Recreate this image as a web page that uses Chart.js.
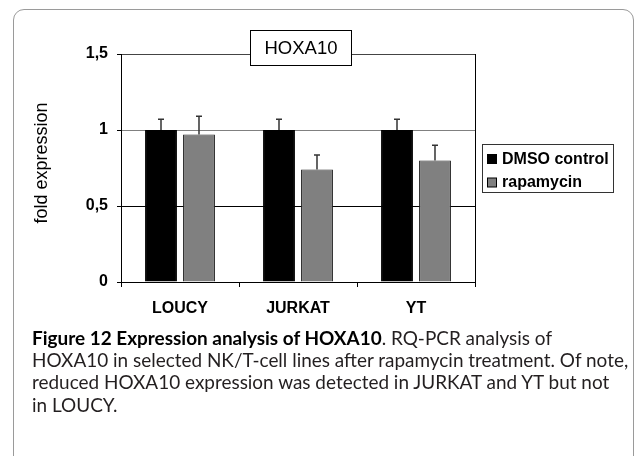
<!DOCTYPE html>
<html>
<head>
<meta charset="utf-8">
<script src="https://cdn.jsdelivr.net/npm/chart.js@4/dist/chart.umd.min.js"></script>
<style>
  body { margin:0; background:#fff; width:636px; height:456px; overflow:hidden; position:relative; }
  #marco { position:absolute; left:13px; top:9px; width:619px; height:600px; border:1px solid #9a9a9a; border-radius:11px; }
  #grafico { position:absolute; left:0; top:0; }
  #pie { position:absolute; left:32px; top:327px; font-family:"Lato","Noto Sans",sans-serif; font-size:19px; line-height:22.2px; color:#231f20; white-space:nowrap; transform-origin:0 0; }
  #pie b { color:#000; }
</style>
</head>
<body>
<div id="marco"></div>
<canvas id="grafico" width="636" height="330"></canvas>
<div id="pie">
  <div><b>Figure 12 Expression analysis of HOXA10</b>. RQ-PCR analysis of</div>
  <div id="linea2">HOXA10 in selected NK/T-cell lines after rapamycin treatment. Of note,</div>
  <div>reduced HOXA10 expression was detected in JURKAT and YT but not</div>
  <div>in LOUCY.</div>
</div>
<script>
// datos
var lineas = ["LOUCY", "JURKAT", "YT"];
var dmso = [1, 1, 1];
var dmsoErr = [0.07, 0.07, 0.07];
var rapa = [0.97, 0.74, 0.80];
var rapaErr = [0.12, 0.095, 0.10];
var yTicks = [0, 0.5, 1, 1.5];

var fuente = '"Liberation Sans", Arial, sans-serif';
var errores = [dmsoErr, rapaErr];

// barras de error (solo hacia arriba)
var pluginError = {
    id: "errores",
    afterDatasetsDraw(chart) {
        const ctx = chart.ctx;
        const y = chart.scales.y;
        chart.data.datasets.forEach((ds, i) => {
            const meta = chart.getDatasetMeta(i);
            meta.data.forEach((bar, j) => {
                const top = y.getPixelForValue(ds.data[j] + errores[i][j]);
                ctx.save();
                ctx.strokeStyle = "#333";
                ctx.lineWidth = 1.5;
                ctx.beginPath();
                ctx.moveTo(bar.x, bar.y);
                ctx.lineTo(bar.x, top);
                ctx.moveTo(bar.x - 3, top);
                ctx.lineTo(bar.x + 3, top);
                ctx.stroke();
                ctx.restore();
            });
        });
    }
};

// marco derecho, titulo, leyenda y titulo del eje
var pluginExtras = {
    id: "extras",
    afterDraw(chart) {
        const ctx = chart.ctx;
        const a = chart.chartArea;
        ctx.save();
        ctx.strokeStyle = "#000";
        ctx.lineWidth = 1;
        ctx.beginPath();
        ctx.moveTo(Math.round(a.right) + 0.5, a.top);
        ctx.lineTo(Math.round(a.right) + 0.5, a.bottom);
        ctx.stroke();

        // caja del titulo
        ctx.fillStyle = "#fff";
        ctx.fillRect(250.5, 30.5, 101, 35);
        ctx.strokeRect(250.5, 30.5, 101, 35);
        ctx.fillStyle = "#000";
        ctx.font = "18.5px " + fuente;
        ctx.textAlign = "center";
        ctx.textBaseline = "middle";
        ctx.fillText("HOXA10", 301, 48.5);

        // leyenda
        ctx.fillStyle = "#fff";
        ctx.strokeStyle = "#333";
        ctx.fillRect(482.5, 144.5, 131, 48);
        ctx.strokeRect(482.5, 144.5, 131, 48);
        ctx.font = "bold 16px " + fuente;
        ctx.textAlign = "left";
        chart.data.datasets.forEach((ds, i) => {
            const cy = 159 + i * 23.5;
            ctx.fillStyle = ds.backgroundColor;
            ctx.fillRect(487.5, cy - 4.5, 9, 9);
            ctx.strokeStyle = "#000";
            ctx.strokeRect(487.5, cy - 4.5, 9, 9);
            ctx.fillStyle = "#000";
            ctx.fillText(ds.label, 502, cy + 0.5);
        });

        // titulo eje y
        ctx.translate(42, 163);
        ctx.rotate(-Math.PI / 2);
        ctx.font = "18px " + fuente;
        ctx.textAlign = "center";
        ctx.fillText("fold expression", 0, 0);
        ctx.restore();
    }
};

var chart = new Chart(document.getElementById("grafico"), {
    type: "bar",
    data: {
        labels: lineas,
        datasets: [
            { label: "DMSO control", data: dmso, backgroundColor: "#000", borderColor: "#000", borderWidth: 1 },
            { label: "rapamycin", data: rapa, backgroundColor: "#808080", borderColor: "#222", borderWidth: 1 }
        ]
    },
    options: {
        responsive: false,
        devicePixelRatio: 1,
        animation: false,
        barPercentage: 0.84,
        categoryPercentage: 0.644,
        layout: { padding: { top: 54, right: 161, left: 0, bottom: 0 } },
        plugins: { legend: { display: false }, tooltip: { enabled: false } },
        scales: {
            x: {
                afterFit: (s) => { s.height = 48; },
                grid: { drawOnChartArea: false, color: "#000", tickLength: 5 },
                border: { color: "#000", width: 1 },
                ticks: { color: "#000", padding: 12, font: { family: fuente, size: 16, weight: "bold" } }
            },
            y: {
                min: 0,
                max: 1.5,
                afterFit: (s) => { s.width = 121; },
                afterBuildTicks: (s) => { s.ticks = yTicks.map(v => ({ value: v })); },
                grid: {
                    tickLength: 4,
                    tickColor: "#000",
                    color: (c) => c.tick && c.tick.value === 1 ? "#808080" : (c.tick && c.tick.value === 1.5 ? "#444" : "#000")
                },
                border: { color: "#000", width: 1 },
                ticks: {
                    color: "#000",
                    padding: 9,
                    font: { family: fuente, size: 16, weight: "bold" },
                    callback: (v) => String(v).replace(".", ",")
                }
            }
        }
    },
    plugins: [pluginError, pluginExtras]
});

// ajustar el ancho del pie de figura
var pie = document.getElementById("pie");
var ancho = document.getElementById("linea2").scrollWidth;
pie.style.transform = "scaleX(" + (596 / ancho) + ")";
</script>
</body>
</html>
